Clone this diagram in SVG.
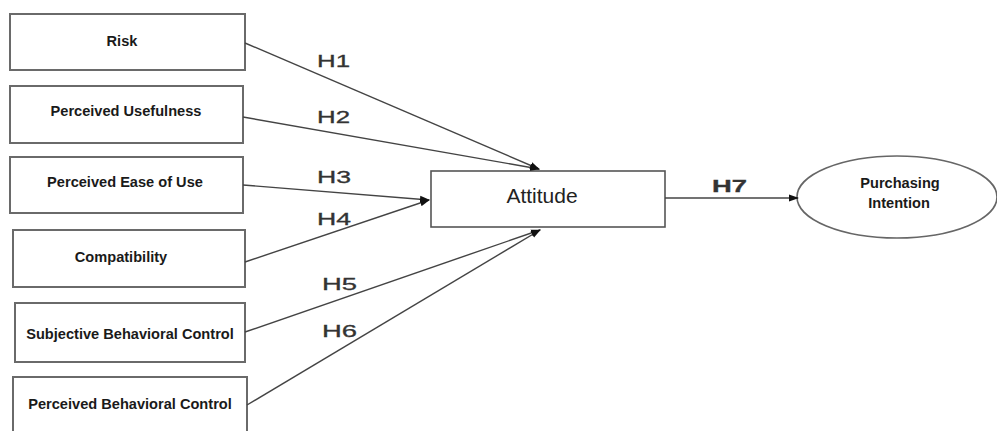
<svg xmlns="http://www.w3.org/2000/svg" width="997" height="431" viewBox="0 0 997 431">
<style>
.box{fill:#fff;stroke:#6a6a6a;stroke-width:2}
.lbl{font-family:"Liberation Sans",Arial,sans-serif;font-weight:bold;font-size:14.6px;fill:#1a1a1a;text-anchor:middle}
.con{stroke:#444;stroke-width:1.4;fill:none;marker-end:url(#ah)}
.h{font-family:"Liberation Sans",Arial,sans-serif;font-size:16.5px;fill:#333;stroke:#333;stroke-width:0.3}
</style>
<defs>
<marker id="ah" markerWidth="10" markerHeight="8" refX="9" refY="4" orient="auto" markerUnits="userSpaceOnUse">
<path d="M0,0.5 L10,4 L0,7.5 Z" fill="#111"/>
</marker>
</defs>
<rect width="997" height="431" fill="#fff"/>
<g id="risk"><rect class="box" x="10" y="14" width="235" height="56"/><text class="lbl" x="122" y="46">Risk</text></g>
<g id="usefulness"><rect class="box" x="10" y="86" width="233" height="57"/><text class="lbl" x="126" y="116">Perceived Usefulness</text></g>
<g id="ease"><rect class="box" x="10" y="157" width="233" height="56"/><text class="lbl" x="125" y="187">Perceived Ease of Use</text></g>
<g id="compat"><rect class="box" x="13" y="230" width="232" height="57"/><text class="lbl" x="121" y="262">Compatibility</text></g>
<g id="subjective"><rect class="box" x="15" y="303" width="230" height="59"/><text class="lbl" x="130" y="339">Subjective Behavioral Control</text></g>
<g id="pbc"><rect class="box" x="13" y="377" width="234" height="60"/><text class="lbl" x="130" y="409">Perceived Behavioral Control</text></g>
<g id="attitude"><rect x="431" y="171" width="234" height="56" fill="#fff" stroke="#555" stroke-width="1.6"/><text x="542" y="203" font-family="Liberation Sans,Arial,sans-serif" font-size="21" fill="#222" text-anchor="middle">Attitude</text></g>
<g id="intention"><ellipse cx="897" cy="197" rx="100" ry="41" fill="#fff" stroke="#666" stroke-width="1.6"/><text class="lbl" x="900" y="188">Purchasing</text><text class="lbl" x="899" y="208">Intention</text></g>
<g id="connectors">
<line class="con" x1="245" y1="43" x2="539" y2="169"/>
<line class="con" x1="243" y1="117" x2="539" y2="169"/>
<line class="con" x1="243" y1="185" x2="429" y2="200"/>
<line class="con" x1="245" y1="262" x2="429" y2="200"/>
<line class="con" x1="245" y1="332" x2="540" y2="230"/>
<line class="con" x1="247" y1="405" x2="540" y2="230"/>
<line class="con" x1="665" y1="198" x2="798" y2="198"/>
<text class="h" x="317" y="67" textLength="33" lengthAdjust="spacingAndGlyphs">H1</text>
<text class="h" x="317" y="123" textLength="33" lengthAdjust="spacingAndGlyphs">H2</text>
<text class="h" x="317" y="183" textLength="34" lengthAdjust="spacingAndGlyphs">H3</text>
<text class="h" x="317" y="225" textLength="34" lengthAdjust="spacingAndGlyphs">H4</text>
<text class="h" x="322" y="290" textLength="35" lengthAdjust="spacingAndGlyphs">H5</text>
<text class="h" x="322" y="337" textLength="35" lengthAdjust="spacingAndGlyphs">H6</text>
<text class="h" x="712" y="192" font-weight="bold" textLength="35" lengthAdjust="spacingAndGlyphs">H7</text>
</g>
</svg>
